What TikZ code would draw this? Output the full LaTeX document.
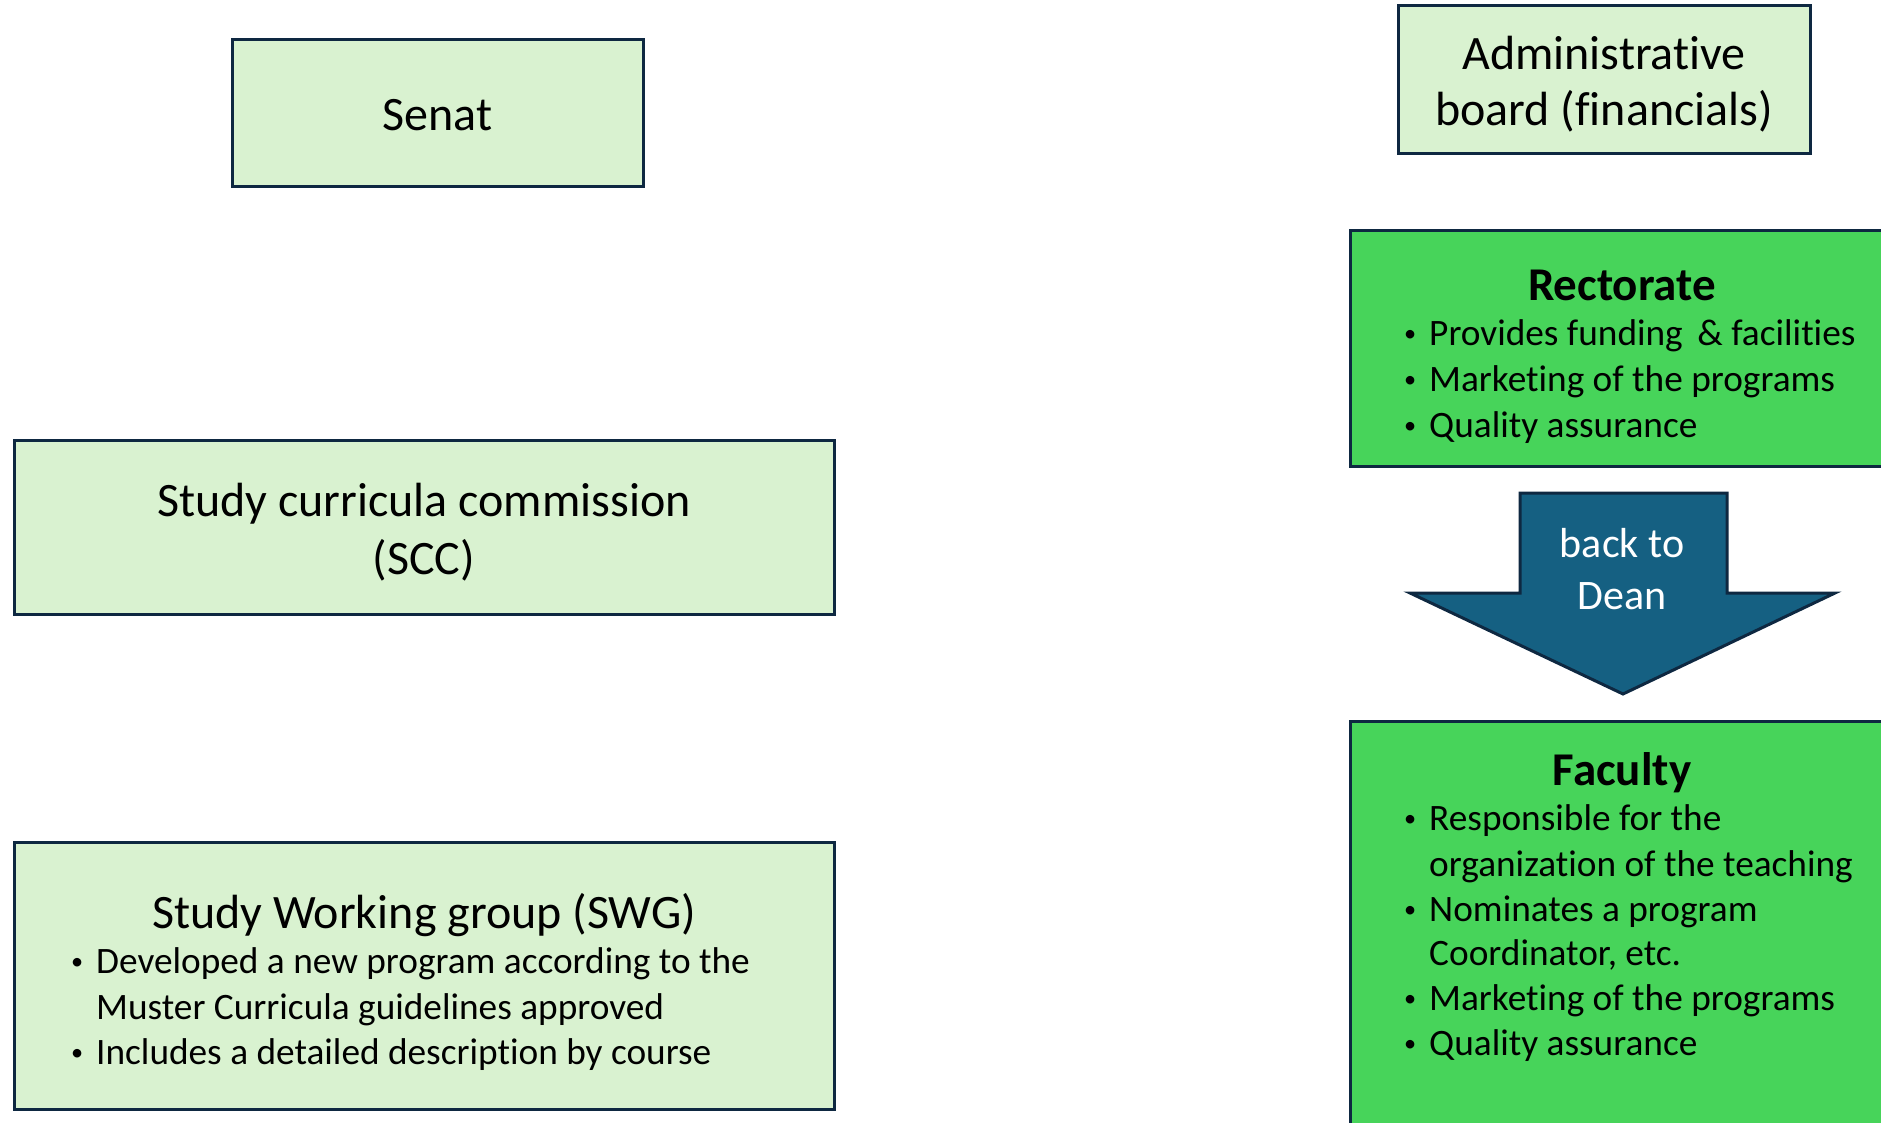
\documentclass[tikz,border=0pt]{standalone}
\usepackage{fontspec}
\setmainfont{Carlito}[Ligatures={NoCommon}]
\definecolor{paleg}{HTML}{D9F2D0}
\definecolor{brightg}{HTML}{47D45A}
\definecolor{edge}{HTML}{0E2841}
\definecolor{arrowblue}{HTML}{156082}
\tikzset{
  panel/.style={rectangle, draw=edge, line width=3pt, inner sep=0pt},
  lightbox/.style={panel, fill=paleg},
  brightbox/.style={panel, fill=brightg},
  big/.style={inner sep=0pt, anchor=base, font=\fontsize{48}{58}\selectfont},
  head/.style={inner sep=0pt, anchor=base, font=\fontsize{47}{56}\selectfont\bfseries},
  item/.style={inner sep=0pt, anchor=base west, font=\fontsize{37.3}{45}\selectfont},
  arrowtext/.style={inner sep=0pt, anchor=base, text=white, font=\fontsize{42}{52}\selectfont},
}
\newcommand{\bul}{\llap{\raisebox{0.1em}{\scalebox{0.65}{•}}\hspace{13pt}}}
\begin{document}
\begin{tikzpicture}[x=1pt, y=-1pt]
\useasboundingbox (0,0) rectangle (1881,1123);
\clip (0,0) rectangle (1881,1123);

% left column: pale boxes
\node[lightbox, minimum width=411pt, minimum height=147pt] (senat) at (437.5,113.5) {};
\node[big] (senat-t) at (437.5,131) {Senat};

\node[lightbox, minimum width=820pt, minimum height=174pt] (scc) at (424,527) {};
\node[big] (scc-1) at (424,516) {Study curricula commission};
\node[big] (scc-2) at (424,574) {(SCC)};

\node[lightbox, minimum width=820pt, minimum height=267pt] (swg) at (424,975.5) {};
\node[big] (swg-t) at (424,928) {Study Working group (SWG)};
\node[item] (swg-1) at (96,973) {\bul Developed a new program according to the};
\node[item] (swg-2) at (96,1019) {Muster Curricula guidelines approved};
\node[item] (swg-3) at (96,1064) {\bul Includes a detailed description by course};

% right column
\node[lightbox, minimum width=412pt, minimum height=148pt] (admin) at (1604,80) {};
\node[big] (admin-1) at (1604,70) {Administrative};
\node[big] (admin-2) at (1604,126) {board (financials)};

\node[brightbox, minimum width=550pt, minimum height=235pt] (rect) at (1625,348.5) {};
\node[head] (rect-t) at (1622,300) {Rectorate};
\node[item] (rect-1) at (1429,345) {\bul Provides funding\, \& facilities};
\node[item] (rect-2) at (1429,391) {\bul Marketing of the programs};
\node[item] (rect-3) at (1429,437) {\bul Quality assurance};

% block arrow from Rectorate down to Faculty
\coordinate (tip) at (1623,694);
\filldraw[fill=arrowblue, draw=edge, line width=3pt, line join=miter]
  (1520,493) -- (1727,493) -- (1727,593) -- (1835,593) -- (tip)
  -- (1410,593) -- (1520,593) -- cycle;
\node[arrowtext] (back-1) at (1622,557) {back to};
\node[arrowtext] (back-2) at (1622,609) {Dean};

\node[brightbox, minimum width=550pt, minimum height=420pt] (fac) at (1625,931) {};
\node[head] (fac-t) at (1622,785) {Faculty};
\node[item] (fac-1) at (1429,830) {\bul Responsible for the};
\node[item] (fac-2) at (1429,876) {organization of the teaching};
\node[item] (fac-3) at (1429,921) {\bul Nominates a program};
\node[item] (fac-4) at (1429,965) {Coordinator, etc.};
\node[item] (fac-5) at (1429,1010) {\bul Marketing of the programs};
\node[item] (fac-6) at (1429,1055) {\bul Quality assurance};
\end{tikzpicture}
\end{document}
